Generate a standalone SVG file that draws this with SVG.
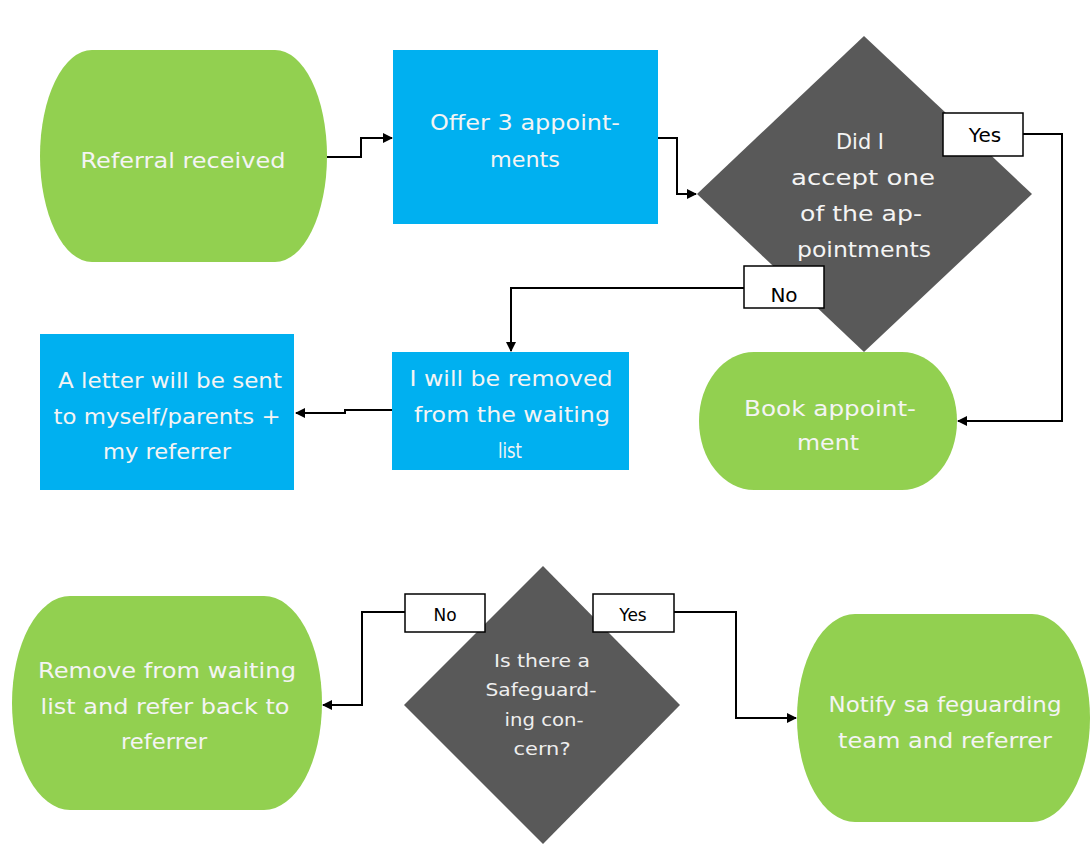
<svg xmlns="http://www.w3.org/2000/svg" width="1090" height="844" viewBox="0 0 1090 844">
<defs>
<marker id="arr" viewBox="0 0 10 10" refX="9" refY="5" markerWidth="10" markerHeight="10" markerUnits="userSpaceOnUse" orient="auto">
<path d="M0,0 L10,5 L0,10 z" fill="#000"/>
</marker>
<style>
.green{fill:#92d050}
.blue{fill:#00b0f0}
.dark{fill:#595959}
.t{font-family:"DejaVu Sans","Liberation Sans",sans-serif;font-size:22px;fill:#f4f4f4;text-anchor:middle}
.ts{font-family:"DejaVu Sans","Liberation Sans",sans-serif;font-size:22px;fill:#f4f4f4;text-anchor:middle}
.td{font-family:"DejaVu Sans","Liberation Sans",sans-serif;font-size:17px;fill:#eeeeee;text-anchor:middle}
.lab{fill:#fff;stroke:#000;stroke-width:1.5}
.lt{font-family:"DejaVu Sans","Liberation Sans",sans-serif;font-size:20px;fill:#000;text-anchor:middle}
.lts{font-family:"DejaVu Sans","Liberation Sans",sans-serif;font-size:17px;fill:#000;text-anchor:middle}
.c{fill:none;stroke:#000;stroke-width:2;marker-end:url(#arr)}
</style>
</defs>
<rect width="1090" height="844" fill="#fff"/>

<g id="connectors">
<path class="c" d="M327,157 H361 V138 H392"/>
<path class="c" d="M658,138 H677 V194 H696"/>
<path class="c" d="M1023,134 H1062 V421 H958"/>
<path class="c" d="M744,288 H511 V351"/>
<path class="c" d="M392,410 H345 V413 H296"/>
<path class="c" d="M405,612 H362 V705 H323"/>
<path class="c" d="M674,612 H736 V718 H796"/>
</g>

<g id="referral">
<rect class="green" x="40" y="50" width="287" height="212" rx="52" ry="106"/>
<text class="t" x="183" y="168" textLength="205" lengthAdjust="spacingAndGlyphs">Referral received</text>
</g>

<g id="offer">
<rect class="blue" x="393" y="50" width="265" height="174"/>
<text class="t" x="525" y="130" textLength="190" lengthAdjust="spacingAndGlyphs">Offer 3 appoint-</text>
<text class="t" x="525" y="167" textLength="70" lengthAdjust="spacingAndGlyphs">ments</text>
</g>

<g id="decision1">
<polygon class="dark" points="864,36 1032,194 864,352 697,194"/>
<text class="t" x="860" y="149" textLength="48" lengthAdjust="spacingAndGlyphs">Did I</text>
<text class="t" x="863" y="185" textLength="144" lengthAdjust="spacingAndGlyphs">accept one</text>
<text class="t" x="861" y="221" textLength="122" lengthAdjust="spacingAndGlyphs">of the ap-</text>
<text class="t" x="864" y="257" textLength="134" lengthAdjust="spacingAndGlyphs">pointments</text>
</g>

<g id="label-yes1">
<rect class="lab" x="943" y="113" width="80" height="43"/>
<text class="lt" x="985" y="142">Yes</text>
</g>

<g id="label-no1">
<rect class="lab" x="744" y="266" width="80" height="42"/>
<text class="lt" x="784" y="302">No</text>
</g>

<g id="removed">
<rect class="blue" x="392" y="352" width="237" height="118"/>
<text class="ts" x="511" y="386" textLength="203" lengthAdjust="spacingAndGlyphs">I will be removed</text>
<text class="ts" x="512" y="422" textLength="196" lengthAdjust="spacingAndGlyphs">from the waiting</text>
<text class="ts" x="510" y="458" textLength="24" lengthAdjust="spacingAndGlyphs">list</text>
</g>

<g id="letter">
<rect class="blue" x="40" y="334" width="254" height="156"/>
<text class="ts" x="170" y="388" textLength="224" lengthAdjust="spacingAndGlyphs">A letter will be sent</text>
<text class="ts" x="167" y="424" textLength="227" lengthAdjust="spacingAndGlyphs">to myself/parents +</text>
<text class="ts" x="167" y="459" textLength="128" lengthAdjust="spacingAndGlyphs">my referrer</text>
</g>

<g id="book">
<rect class="green" x="699" y="352" width="258" height="138" rx="55" ry="69"/>
<text class="t" x="830" y="416" textLength="172" lengthAdjust="spacingAndGlyphs">Book appoint-</text>
<text class="t" x="828" y="450" textLength="62" lengthAdjust="spacingAndGlyphs">ment</text>
</g>

<g id="decision2">
<polygon class="dark" points="543,566 680,705 543,844 404,705"/>
<text class="td" x="542" y="667" textLength="96" lengthAdjust="spacingAndGlyphs">Is there a</text>
<text class="td" x="541" y="696" textLength="111" lengthAdjust="spacingAndGlyphs">Safeguard-</text>
<text class="td" x="544" y="726" textLength="79" lengthAdjust="spacingAndGlyphs">ing con-</text>
<text class="td" x="542" y="755" textLength="57" lengthAdjust="spacingAndGlyphs">cern?</text>
</g>

<g id="label-no2">
<rect class="lab" x="405" y="594" width="80" height="38"/>
<text class="lts" x="445" y="621">No</text>
</g>

<g id="label-yes2">
<rect class="lab" x="593" y="594" width="81" height="38"/>
<text class="lts" x="633" y="621">Yes</text>
</g>

<g id="remove-refer">
<rect class="green" x="12" y="596" width="310" height="214" rx="58" ry="107"/>
<text class="ts" x="167" y="678" textLength="258" lengthAdjust="spacingAndGlyphs">Remove from waiting</text>
<text class="ts" x="165" y="714" textLength="249" lengthAdjust="spacingAndGlyphs">list and refer back to</text>
<text class="ts" x="164" y="749" textLength="86" lengthAdjust="spacingAndGlyphs">referrer</text>
</g>

<g id="notify">
<rect class="green" x="797" y="614" width="293" height="208" rx="58" ry="104"/>
<text class="ts" x="945" y="712" textLength="233" lengthAdjust="spacingAndGlyphs">Notify sa feguarding</text>
<text class="ts" x="945" y="748" textLength="214" lengthAdjust="spacingAndGlyphs">team and referrer</text>
</g>
</svg>
